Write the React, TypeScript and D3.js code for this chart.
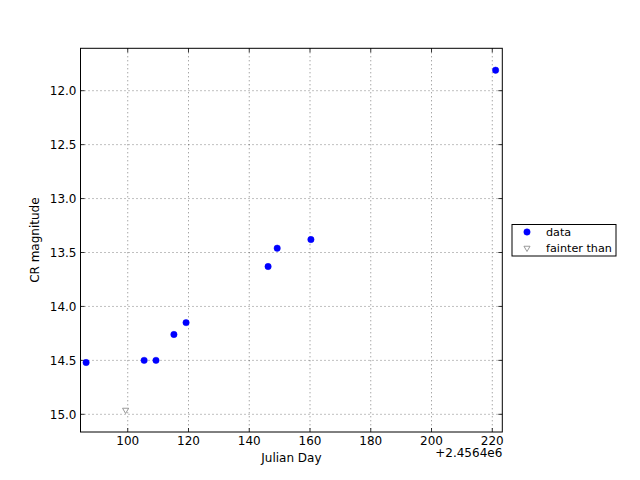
import React from "react";
import * as d3 from "d3";

const dataX = [86.3, 105.4, 109.3, 115.2, 119.2, 146.2, 149.2, 160.3, 221.1];
const dataY = [14.52, 14.5, 14.5, 14.26, 14.15, 13.63, 13.46, 13.38, 11.81];
const faintX = [99.3];
const faintY = [14.96];
const xTicks = [100, 120, 140, 160, 180, 200, 220];
const yTicks = [12.0, 12.5, 13.0, 13.5, 14.0, 14.5, 15.0];

const W = 640, H = 480;
const L = 80.5, R = 502.3, T = 48.3, B = 432;
const font = "DejaVu Sans";

export default function App() {
  const x = d3.scaleLinear().domain([84.45, 223.3]).range([L, R]);
  const y = d3.scaleLinear().domain([11.607, 15.164]).range([T, B]);
  const tri = d3.symbol().type(d3.symbolTriangle).size(16)();
  const circ = d3.symbol().type(d3.symbolCircle).size(32)();
  return (
    <svg width={W} height={H} style={{ position: "absolute", left: 0, top: 0, background: "#fff" }}>
      <rect x={0} y={0} width={W} height={H} fill="#fff" />
      {xTicks.map((t) => (
        <g key={"gx" + t}>
          <line x1={x(t)} x2={x(t)} y1={T} y2={B} stroke="#000" strokeWidth={0.5} strokeDasharray="1,3" />
          <line x1={x(t)} x2={x(t)} y1={B} y2={B - 4} stroke="#000" strokeWidth={0.8} />
          <line x1={x(t)} x2={x(t)} y1={T} y2={T + 4} stroke="#000" strokeWidth={0.8} />
          <text x={x(t)} y={B + 13} fontFamily={font} fontSize={12} textAnchor="middle">{t}</text>
        </g>
      ))}
      {yTicks.map((t) => (
        <g key={"gy" + t}>
          <line x1={L} x2={R} y1={y(t)} y2={y(t)} stroke="#000" strokeWidth={0.5} strokeDasharray="1,3" />
          <line x1={L} x2={L + 4} y1={y(t)} y2={y(t)} stroke="#000" strokeWidth={0.8} />
          <line x1={R} x2={R - 4} y1={y(t)} y2={y(t)} stroke="#000" strokeWidth={0.8} />
          <text x={L - 4} y={y(t) + 4.3} fontFamily={font} fontSize={12} textAnchor="end">{t.toFixed(1)}</text>
        </g>
      ))}
      {dataX.map((v, i) => (
        <path key={"d" + i} d={circ} transform={`translate(${x(v)},${y(dataY[i])})`} fill="#0000ff" stroke="#0000ff" strokeWidth={0.5} />
      ))}
      {faintX.map((v, i) => (
        <path key={"f" + i} d={tri} transform={`translate(${x(v)},${y(faintY[i])}) rotate(180)`} fill="#fff" stroke="#808080" strokeWidth={0.8} />
      ))}
      <rect x={L} y={T} width={R - L} height={B - T} fill="none" stroke="#000" strokeWidth={1} />
      <text x={(L + R) / 2} y={462} fontFamily={font} fontSize={12} textAnchor="middle">Julian Day</text>
      <text x={R} y={457} fontFamily={font} fontSize={12} textAnchor="end">+2.4564e6</text>
      <text transform={`translate(39,${(T + B) / 2}) rotate(-90)`} fontFamily={font} fontSize={12} textAnchor="middle">CR magnitude</text>
      <rect x={512} y={224.5} width={104} height={31.5} fill="#fff" stroke="#000" strokeWidth={1} />
      <path d={circ} transform="translate(527,232)" fill="#0000ff" stroke="#0000ff" strokeWidth={0.5} />
      <text x={546} y={236} fontFamily={font} fontSize={11.2}>data</text>
      <path d={tri} transform="translate(527,248) rotate(180)" fill="#fff" stroke="#808080" strokeWidth={0.8} />
      <text x={546} y={251.5} fontFamily={font} fontSize={11.2}>fainter than</text>
    </svg>
  );
}
